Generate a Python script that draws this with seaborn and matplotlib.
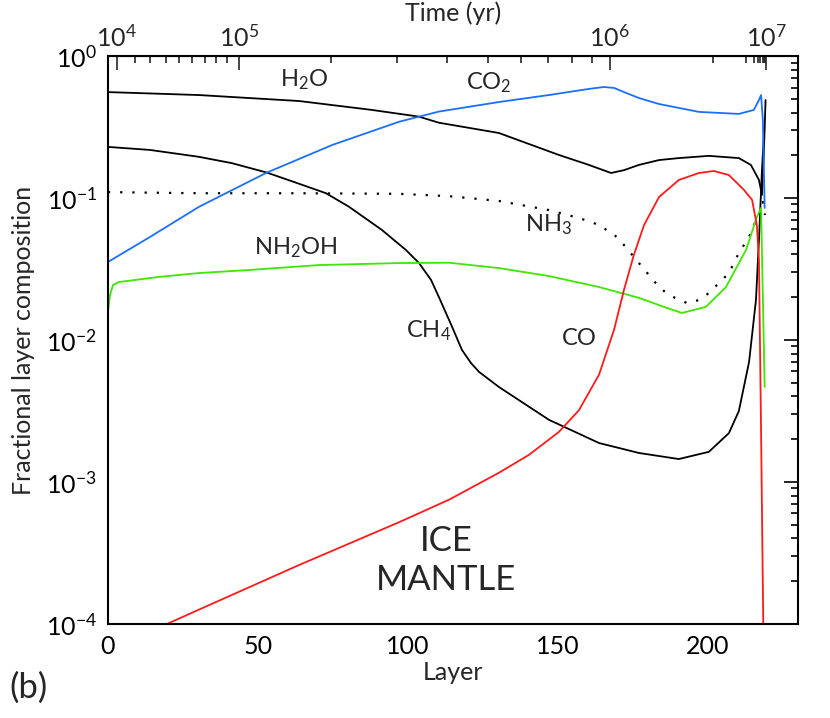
import numpy as np
import matplotlib
matplotlib.use("Agg")
import matplotlib.pyplot as plt
import seaborn as sns
from matplotlib.ticker import FixedLocator, MultipleLocator, LogLocator, NullFormatter

# Values: (layer, fractional composition)
h2o_layer = [0, 30.3, 63.7, 88, 103.7, 110.3, 130.3, 150.3, 160.3, 163.7, 167.7, 172, 177,
             183.7, 190.3, 200.3, 210.3, 214.3, 217, 218, 218.6, 219.2]
h2o_frac = [0.557, 0.531, 0.482, 0.417, 0.374, 0.339, 0.287, 0.201, 0.171, 0.161, 0.150, 0.157,
            0.171, 0.185, 0.191, 0.198, 0.191, 0.171, 0.134, 0.105, 0.2, 0.49]

co2_layer = [0, 14, 30.3, 39.3, 53, 74.7, 97, 110.3, 130.3, 147, 160, 165.3, 168.7, 172, 177,
             183.7, 197, 210.3, 215.3, 217, 217.7, 218.3, 218.9]
co2_frac = [0.0354, 0.0531, 0.0865, 0.108, 0.151, 0.236, 0.344, 0.406, 0.474, 0.531, 0.585,
            0.605, 0.596, 0.557, 0.506, 0.459, 0.404, 0.391, 0.417, 0.490, 0.531, 0.354, 0.0851]

nh3_layer = [0, 30.3, 63.7, 97, 113.7, 130.3, 147, 157, 163.7, 170, 177, 183.7, 187, 193,
             197, 200.3, 207, 210.3, 213.7, 215.3, 217, 218.3, 219]
nh3_frac = [0.110, 0.108, 0.108, 0.107, 0.103, 0.0953, 0.0822, 0.0723, 0.0646, 0.0525, 0.0348,
            0.0236, 0.0207, 0.0182, 0.0191, 0.0214, 0.0296, 0.0410, 0.0531, 0.0646, 0.0735,
            0.0938, 0.0759]

nh2oh_layer = [0, 0.7, 1.7, 3.7, 17, 30.3, 47, 70.3, 97, 113.7, 130.3, 147, 163.7, 177, 185,
               191.3, 199.3, 206, 212.7, 216.3, 217.7, 218.9]
nh2oh_frac = [0.0157, 0.0207, 0.0244, 0.0256, 0.0278, 0.0296, 0.0311, 0.0337, 0.0348, 0.0350,
              0.0321, 0.0282, 0.0236, 0.0198, 0.0172, 0.0155, 0.0171, 0.0236, 0.0431, 0.0735,
              0.0851, 0.00467]

ch4_layer = [0, 14, 30.3, 41.3, 53, 63.7, 72.7, 80.3, 91.3, 99.3, 103.7, 107.7, 110.3, 114.7,
             118, 121, 123.7, 130.3, 147, 163.7, 177, 190.3, 200.3, 207, 210.3, 213.7, 216, 217,
             218, 218.8]
ch4_frac = [0.229, 0.218, 0.195, 0.176, 0.151, 0.126, 0.108, 0.0869, 0.0596, 0.0431, 0.0348,
            0.0265, 0.0201, 0.0124, 0.00851, 0.00689, 0.00596, 0.00467, 0.00274, 0.00188,
            0.00160, 0.00145, 0.00163, 0.00221, 0.00316, 0.0070, 0.0191, 0.0506, 0.157, 0.316]

co_layer = [0, 1, 19.7, 30.3, 63.7, 97, 113.7, 130.3, 140.3, 150.3, 157, 163.7, 168.7, 172,
            175.3, 178.7, 183.7, 190.3, 197, 202, 207, 212, 214.7, 216.3, 217, 217.7, 218.5]
co_frac = [1.05e-4, 3e-5, 1.0e-4, 1.26e-4, 2.6e-4, 5.2e-4, 7.5e-4, 1.16e-3, 1.55e-3, 2.25e-3,
           3.2e-3, 5.7e-3, 0.0118, 0.0225, 0.0397, 0.0645, 0.1016, 0.134, 0.150, 0.155, 0.145,
           0.114, 0.097, 0.0645, 0.0366, 2.3e-3, 7.7e-5]

# Top axis: where each time (yr) falls on the layer axis
time_major = [1e4, 1e5, 1e6, 1e7]
time_major_layer = [3, 43.8, 167.3, 219.5]
time_minor_layer = [9, 14, 19.3, 23.7, 28, 32.3, 36, 39.7,
                    74.3, 96.3, 113.1, 126.7, 137.7, 146.7, 154.7, 161.3,
                    201.7, 212.7, 215.5, 216.7, 217.5, 218.2, 218.7, 219.1]

sns.set_style("white")
plt.rcParams["font.family"] = ["Lato", "DejaVu Sans"]
plt.rcParams["mathtext.default"] = "regular"

fig = plt.figure(figsize=(8.3, 7.18), dpi=100)
ax = fig.add_axes([0.130, 0.131, 0.8314, 0.791])

lw = 1.3
sns.lineplot(x=h2o_layer, y=h2o_frac, color="black", linewidth=lw, ax=ax, sort=False, estimator=None)
sns.lineplot(x=ch4_layer, y=ch4_frac, color="black", linewidth=lw, ax=ax, sort=False, estimator=None)
sns.lineplot(x=nh3_layer, y=nh3_frac, color="black", linewidth=1.6, linestyle=(0, (1, 4.5)),
             ax=ax, sort=False, estimator=None)
sns.lineplot(x=co2_layer, y=co2_frac, color="#1a6fff", linewidth=lw, ax=ax, sort=False, estimator=None)
sns.lineplot(x=nh2oh_layer, y=nh2oh_frac, color="#3ee600", linewidth=lw, ax=ax, sort=False, estimator=None)
sns.lineplot(x=co_layer, y=co_frac, color="#ff1a1a", linewidth=lw, ax=ax, sort=False, estimator=None)

ax.set_yscale("log")
ax.set_xlim(0, 230)
ax.set_ylim(1e-4, 1)

fs = 18
ax.xaxis.set_major_locator(MultipleLocator(50))
ax.xaxis.set_minor_locator(MultipleLocator(10))
ax.yaxis.set_major_locator(LogLocator(base=10, numticks=10))
ax.yaxis.set_minor_locator(LogLocator(base=10, subs=np.arange(2, 10), numticks=20))
ax.yaxis.set_minor_formatter(NullFormatter())
ax.tick_params(which="both", direction="in", top=False, right=True, width=1.2,
               labelsize=fs, colors="black")
ax.tick_params(which="major", length=10, pad=8)
ax.tick_params(which="minor", length=5)
for s in ax.spines.values():
    s.set_linewidth(1.5)
    s.set_color("black")

ax.set_xlabel("Layer", fontsize=fs, labelpad=2)
ax.set_ylabel("Fractional layer composition", fontsize=fs, labelpad=8)

# time axis along the top
top = ax.secondary_xaxis("top")
top.set_xticks(time_major_layer, [r"$10^{%d}$" % int(np.log10(t)) for t in time_major])
top.xaxis.set_minor_locator(FixedLocator(time_minor_layer))
top.tick_params(which="both", direction="in", width=1.2, labelsize=fs, pad=4)
top.tick_params(which="major", length=10)
top.tick_params(which="minor", length=5)
top.set_xlabel("Time (yr)", fontsize=fs, labelpad=2)

lab = 17
ax.text(65.3, 0.68, r"H$_2$O", fontsize=lab, ha="center", va="center")
ax.text(127, 0.645, r"CO$_2$", fontsize=lab, ha="center", va="center")
ax.text(147, 0.0646, r"NH$_3$", fontsize=lab, ha="center", va="center")
ax.text(62.7, 0.0445, r"NH$_2$OH", fontsize=lab, ha="center", va="center")
ax.text(107, 0.0117, r"CH$_4$", fontsize=lab, ha="center", va="center")
ax.text(157, 0.0103, "CO", fontsize=lab, ha="center", va="center")
ax.text(112.7, 3.85e-4, "ICE", fontsize=25, ha="center", va="center")
ax.text(112.7, 2.04e-4, "MANTLE", fontsize=25, ha="center", va="center")
fig.text(0.034, 0.042, "(b)", fontsize=25, ha="center", va="center")

fig.savefig("out.png", dpi=100)
